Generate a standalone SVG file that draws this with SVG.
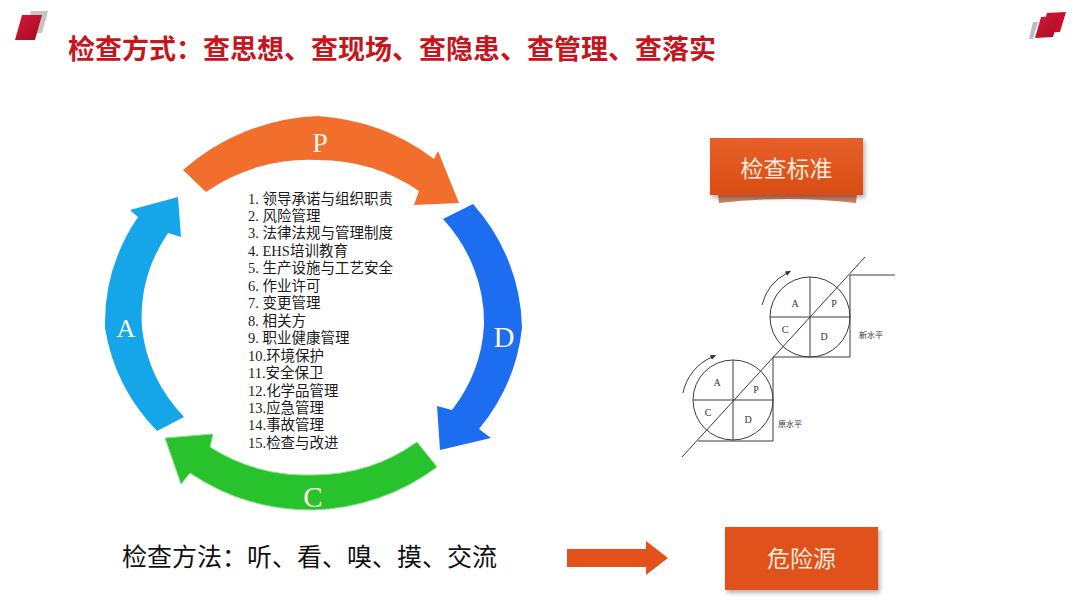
<svg xmlns="http://www.w3.org/2000/svg" width="1080" height="608" viewBox="0 0 1080 608">
<style>
.title{font-family:"Noto Sans CJK SC","Liberation Sans",sans-serif;font-weight:700;font-size:27px;fill:#C5161D}
.list{font-family:"Liberation Serif","Noto Sans CJK SC",serif;font-size:14.5px;fill:#1a1a1a}
.big{font-family:"Liberation Serif",serif;fill:#FFF6E4;text-anchor:middle}
.boxt{font-family:"Noto Sans CJK SC","Liberation Sans",sans-serif;font-size:23px;fill:#FDEBDC;text-anchor:middle}
.method{font-family:"Noto Sans CJK SC","Liberation Sans",sans-serif;font-size:25px;fill:#111}
.sl{font-family:"Liberation Serif",serif;font-size:10px;fill:#333;text-anchor:middle}
.sc{font-family:"Noto Sans CJK SC",sans-serif;font-size:8px;fill:#333;text-anchor:middle}
.ln{stroke:#3a3a3a;stroke-width:1;fill:none}
</style>
<defs>
<filter id="sh" x="-10%" y="-10%" width="130%" height="140%"><feDropShadow dx="2" dy="3" stdDeviation="2" flood-color="#000" flood-opacity="0.3"/></filter>
<linearGradient id="og" x1="0" y1="0" x2="0" y2="1"><stop offset="0" stop-color="#E6602A"/><stop offset="1" stop-color="#DA4C12"/></linearGradient>
<linearGradient id="rg" x1="0" y1="0" x2="1" y2="1"><stop offset="0" stop-color="#D8193A"/><stop offset="1" stop-color="#A30A22"/></linearGradient>
<marker id="mh" viewBox="0 0 10 10" refX="2" refY="5" markerWidth="6" markerHeight="6" orient="auto" markerUnits="userSpaceOnUse"><path d="M0,1 L10,5 L0,9 Z" fill="#333"/></marker>
</defs>
<rect width="1080" height="608" fill="#fff"/>

<g id="logo-left">
<polygon points="31,11 48,11 42,33 25,33" fill="#C4C4C4"/>
<polygon points="22,15 42,15 35,40 15,40" fill="url(#rg)"/>
</g>
<g id="logo-right">
<polygon points="1033,22 1038,22 1033,39 1029,39" fill="#BDBDBD"/>
<polygon points="1047,13 1066,12 1060,32 1041,33" fill="#C8102E"/>
<polygon points="1041,17 1059,16 1053,37 1035,38" fill="url(#rg)"/>
</g>

<g id="title"><text class="title" x="68" y="59">检查方式：查思想、查现场、查隐患、查管理、查落实</text></g>

<g id="pdca-P">
<path d="M183,170 A209,197 0 0 1 318,116 A209,197 0 0 1 434,159 L438,151 L459,203 L414,205 L419,191 A171,159 0 0 0 316,160 A171,159 0 0 0 206,192 Z" fill="#F26E2D"/>
<text class="big" x="320" y="152" font-size="28">P</text>
</g>
<g id="pdca-D">
<path d="M473,204 A209,197 0 0 1 522,328 A209,197 0 0 1 479,429 L491,438 L440,450 L437,406 L452,410 A171,159 0 0 0 484,325 A171,159 0 0 0 443,219 Z" fill="#1C6DEF"/>
<text class="big" x="504" y="347" font-size="29">D</text>
</g>
<g id="pdca-C">
<path d="M437,467 A209,197 0 0 1 313,510 A209,197 0 0 1 190,473 L181,484 L165,438 L213,434 L210,447 A171,159 0 0 0 313,475 A171,159 0 0 0 417,442 Z" fill="#27C22C" stroke="#8BE08B" stroke-width="1"/>
<text class="big" x="313" y="507" font-size="29">C</text>
</g>
<g id="pdca-A">
<path d="M157,431 A209,197 0 0 1 105,328 A209,197 0 0 1 138,217 L130,210 L178,197 L181,237 L168,233 A171,159 0 0 0 142,328 A171,159 0 0 0 184,417 Z" fill="#15A6E9"/>
<text class="big" x="126" y="337" font-size="26">A</text>
</g>

<g id="items">
<text class="list" x="248" y="203.5">1. 领导承诺与组织职责<tspan x="248" dy="17.46">2. 风险管理</tspan><tspan x="248" dy="17.46">3. 法律法规与管理制度</tspan><tspan x="248" dy="17.46">4. EHS培训教育</tspan><tspan x="248" dy="17.46">5. 生产设施与工艺安全</tspan><tspan x="248" dy="17.46">6. 作业许可</tspan><tspan x="248" dy="17.46">7. 变更管理</tspan><tspan x="248" dy="17.46">8. 相关方</tspan><tspan x="248" dy="17.46">9. 职业健康管理</tspan><tspan x="248" dy="17.46">10.环境保护</tspan><tspan x="248" dy="17.46">11.安全保卫</tspan><tspan x="248" dy="17.46">12.化学品管理</tspan><tspan x="248" dy="17.46">13.应急管理</tspan><tspan x="248" dy="17.46">14.事故管理</tspan><tspan x="248" dy="17.46">15.检查与改进</tspan></text>
</g>

<g id="box-standard">
<path d="M718,194 L857,194 L856,203 Q787,195 719,203 Z" fill="#B8461A" opacity="0.7"/>
<rect x="710" y="138" width="153" height="57" fill="url(#og)" filter="url(#sh)"/>
<text class="boxt" x="786.5" y="177">检查标准</text>
</g>

<g id="stair-diagram">
<circle class="ln" cx="810" cy="317" r="40"/>
<line class="ln" x1="770" y1="317" x2="850" y2="317"/>
<line class="ln" x1="810" y1="277" x2="810" y2="357"/>
<circle class="ln" cx="733" cy="400" r="40"/>
<line class="ln" x1="693" y1="400" x2="773" y2="400"/>
<line class="ln" x1="733" y1="360" x2="733" y2="440"/>
<line class="ln" x1="682" y1="457" x2="865" y2="257"/>
<polyline class="ln" points="698,441 773,441 773,357 850,357 850,275 895,275"/>
<path class="ln" d="M762,305 A50,50 0 0 1 787,273" stroke-width="1.3" marker-end="url(#mh)"/>
<path class="ln" d="M683,393 A50,50 0 0 1 712,357" stroke-width="1.3" marker-end="url(#mh)"/>
<text class="sl" x="795" y="307">A</text>
<text class="sl" x="834" y="307">P</text>
<text class="sl" x="785" y="333">C</text>
<text class="sl" x="824" y="340">D</text>
<text class="sl" x="717" y="386">A</text>
<text class="sl" x="756" y="393">P</text>
<text class="sl" x="708" y="416">C</text>
<text class="sl" x="748" y="423">D</text>
<text class="sc" x="871" y="338">新水平</text>
<text class="sc" x="790" y="427">原水平</text>
</g>

<g id="methods"><text class="method" x="122" y="566">检查方法：听、看、嗅、摸、交流</text></g>

<g id="connectors">
<path d="M567,549 L646,549 L646,541 L668,558 L646,575 L646,567 L567,567 Z" fill="#E2521A"/>
</g>

<g id="box-hazard">
<rect x="725" y="527" width="153" height="63" fill="#E0511A" filter="url(#sh)"/>
<text class="boxt" x="801.5" y="567">危险源</text>
</g>
</svg>
